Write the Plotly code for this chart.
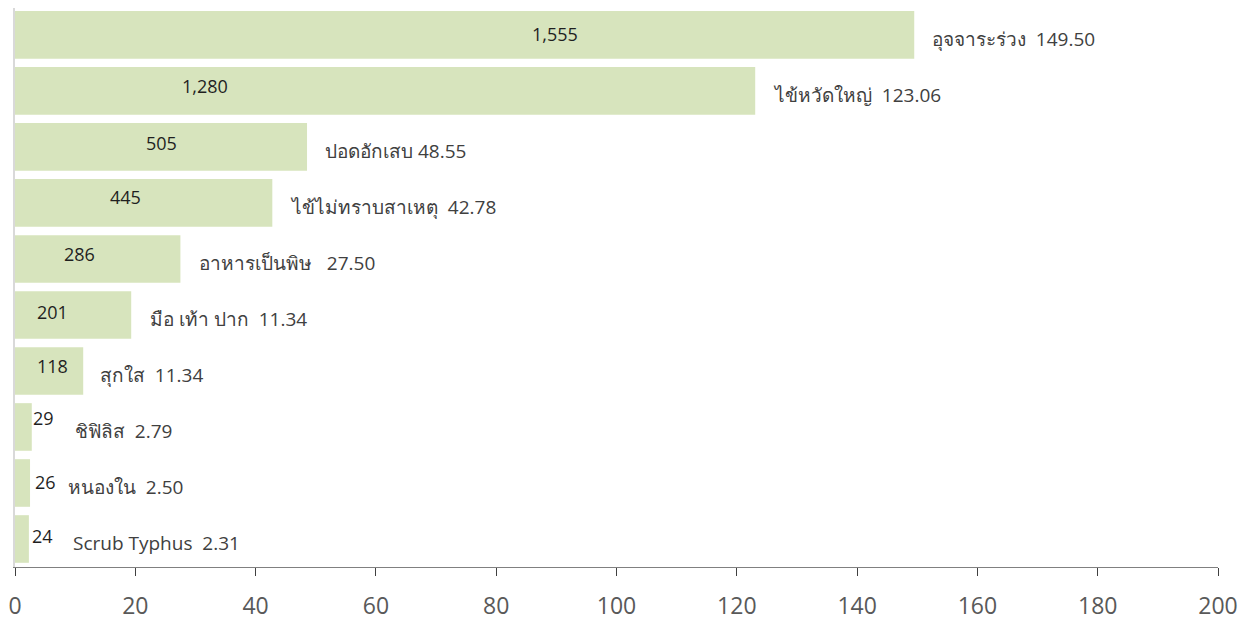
import plotly.graph_objects as go

# Data (top to bottom)
diseases = ["อุจจาระร่วง", "ไข้หวัดใหญ่", "ปอดอักเสบ", "ไข้ไม่ทราบสาเหตุ", "อาหารเป็นพิษ",
            "มือ เท้า ปาก", "สุกใส", "ชิฟิลิส", "หนองใน", "Scrub Typhus"]
rates = [149.50, 123.06, 48.55, 42.78, 27.50, 19.32, 11.34, 2.79, 2.50, 2.31]
rate_labels = ["149.50", "123.06", "48.55", "42.78", "27.50", "11.34", "11.34", "2.79", "2.50", "2.31"]
cases = [1555, 1280, 505, 445, 286, 201, 118, 29, 26, 24]
label_sep = ["  ", "  ", " ", "  ", "   ", "  ", "  ", "  ", "  ", "  "]
x_ticks = [0, 20, 40, 60, 80, 100, 120, 140, 160, 180, 200]

# Label placement tuning (annotation layout, data units / pixel shifts)
count_label_x = [89.8, 31.6, 24.4, 18.3, 10.8, 6.2, 6.2, 4.7, 5.0, 4.5]
count_label_dy = [1, 5, 4, 6, 5, 3, 5, 9, 1, 3]
name_label_dx = [16, 16, 16, 16, 17, 17, 15, 41, 36, 42]

FONT = "Segoe UI, Leelawadee UI, Open Sans, Tahoma, sans-serif"

fig = go.Figure()
fig.add_trace(go.Bar(
    y=diseases, x=rates, orientation="h",
    marker=dict(color="#d7e4bd", line=dict(width=0)),
    hoverinfo="skip", showlegend=False,
))

annotations = []
for i, d in enumerate(diseases):
    annotations.append(dict(
        x=count_label_x[i], y=d, xref="x", yref="y",
        text=f"{cases[i]:,}", showarrow=False, xanchor="center", yanchor="middle",
        yshift=count_label_dy[i],
        font=dict(family=FONT, size=18, color="#1f1f1f"),
    ))
    txt = d + label_sep[i].replace(" ", "\u00a0") + rate_labels[i]
    annotations.append(dict(
        x=rates[i], y=d, xref="x", yref="y",
        text=txt, showarrow=False, xanchor="left", yanchor="middle",
        xshift=name_label_dx[i], yshift=-4.5,
        font=dict(family=FONT, size=19, color="#404040"),
    ))

fig.update_layout(
    width=1241, height=613,
    margin=dict(l=7, r=31, t=0, b=54, autoexpand=False),
    paper_bgcolor="white", plot_bgcolor="white",
    bargap=0.15,
    annotations=annotations,
    xaxis=dict(
        range=[0, 200], tickvals=x_ticks, ticktext=[str(v) for v in x_ticks],
        showgrid=False, zeroline=False,
        showline=True, linecolor="#808080", linewidth=1,
        ticks="outside", ticklen=8, tickcolor="#404040", tickwidth=1,
        ticklabelstandoff=10,
        tickfont=dict(family=FONT, size=23, color="#595959"),
        fixedrange=True,
    ),
    yaxis=dict(
        categoryorder="array", categoryarray=diseases[::-1],
        range=[-0.5, 9.48],
        showticklabels=False, showgrid=False, zeroline=False,
        showline=True, linecolor="#d9d9d9", linewidth=2,
        ticks="", fixedrange=True,
    ),
)

fig.write_html("out.html")
